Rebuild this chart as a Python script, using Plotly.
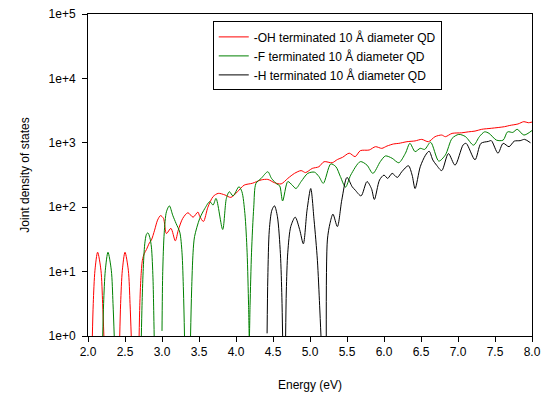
import plotly.graph_objects as go

# ---- data (energy in eV, joint density of states) ----
oh_energy = [2.058, 2.071, 2.094, 2.13, 2.175, 2.198, 2.216, 2.30,
             2.428, 2.441, 2.464, 2.50, 2.545, 2.568, 2.586, 2.64,
             2.69, 2.70, 2.715, 2.735, 2.76, 2.79, 2.83, 2.857, 2.90, 2.94, 2.98, 3.02,
             3.06, 3.12, 3.18, 3.22, 3.28, 3.35, 3.42, 3.485, 3.51, 3.56, 3.62, 3.69,
             3.76, 3.85, 3.93, 4.02, 4.11, 4.22, 4.34, 4.43, 4.52, 4.61, 4.70, 4.79,
             4.88, 4.94, 5.03, 5.12, 5.19, 5.30, 5.37, 5.44, 5.53, 5.61, 5.68, 5.80,
             5.885, 5.97, 6.04, 6.13, 6.20, 6.31, 6.42, 6.51, 6.60, 6.69, 6.78, 6.83,
             6.92, 7.05, 7.14, 7.23, 7.32, 7.45, 7.63, 7.70, 7.81, 7.89, 7.95, 8.0]
oh_jdos = [0.9, 3.2, 10.5, 20, 10.5, 3.2, 0.9, None,
           0.9, 3.2, 10.5, 20, 10.5, 3.2, 0.9, None,
           0.9, 3, 8, 15, 19, 22, 28, 31, 44, 63, 74, 67,
           39, 47, 30, 44, 67, 82, 70, 84, 72, 60, 100, 146,
           164, 155, 142, 174, 220, 235, 265, 270, 240, 230, 280, 335,
           370, 345, 400, 425, 509, 490, 550, 595, 690, 610, 755, 773,
           870, 820, 890, 960, 980, 1040, 1070, 1130, 1040, 1245, 1320, 1245,
           1400, 1430, 1480, 1520, 1620, 1680, 1780, 1860, 1960, 2130, 2050, 2100]

f_energy = [2.198, 2.211, 2.234, 2.27, 2.315, 2.338, 2.356, 2.40,
            2.72, 2.73, 2.745, 2.767, 2.79, 2.81, 2.835, 2.857, 2.878, 2.888, 2.895, 2.95,
            3.00, 3.01, 3.03, 3.06, 3.10, 3.145, 3.19, 3.24, 3.27, 3.29, 3.305, 3.35,
            3.385, 3.40, 3.42, 3.44, 3.51, 3.58, 3.645, 3.69, 3.73, 3.82, 3.87, 3.91,
            3.96, 4.04, 4.08, 4.12, 4.15, 4.17, 4.18, 4.19, 4.21, 4.24, 4.27, 4.34,
            4.43, 4.48, 4.55, 4.59, 4.63, 4.70, 4.76, 4.81, 4.88, 4.97, 5.06, 5.12,
            5.18, 5.28, 5.35, 5.41, 5.48, 5.55, 5.68, 5.77, 5.85, 5.95, 6.02, 6.11,
            6.20, 6.29, 6.35, 6.42, 6.49, 6.55, 6.63, 6.74, 6.83, 6.92, 7.01, 7.10,
            7.21, 7.29, 7.36, 7.42, 7.52, 7.61, 7.67, 7.74, 7.80, 7.89, 8.0]
f_jdos = [0.9, 3.2, 10.5, 20, 10.5, 3.2, 0.9, None,
          0.9, 3, 10, 27, 38, 40, 34, 24, 8, 2.5, 0.9, None,
          1.2, 10, 40, 85, 105, 75, 56, 41, 20, 5, 0.9, None,
          0.9, 5, 20, 35, 67, 96, 122, 108, 137, 45, 137, 174,
          150, 208, 174, 80, 20, 3, 0.9, 3, 20, 100, 234, 280,
          355, 280, 230, 215, 125, 250, 220, 195, 250, 335, 350, 300,
          235, 470, 425, 300, 205, 315, 510, 450, 335, 510, 625, 575,
          490, 690, 980, 730, 820, 790, 1020, 520, 650, 1170, 1350, 1250,
          920, 1250, 1480, 1400, 1100, 1100, 1480, 1450, 1620, 1320, 1550]

h_energy = [4.42, 4.43, 4.45, 4.485, 4.52, 4.56, 4.60, 4.62, 4.63, 4.65,
            4.67, 4.68, 4.70, 4.74, 4.80, 4.86, 4.91, 4.96, 5.01, 5.055, 5.10, 5.13, 5.15, 5.18,
            5.22, 5.235, 5.27, 5.31, 5.37, 5.43, 5.50, 5.57, 5.61, 5.69, 5.77, 5.83,
            5.87, 5.94, 6.00, 6.05, 6.11, 6.18, 6.24, 6.33, 6.38, 6.42, 6.49, 6.56,
            6.61, 6.66, 6.71, 6.78, 6.87, 6.96, 7.07, 7.11, 7.23, 7.31, 7.41, 7.45,
            7.54, 7.61, 7.69, 7.76, 7.84, 7.90, 7.98]
h_jdos = [1.1, 8, 44, 90, 105, 71, 19, 4, 1.0, None,
          0.9, 5, 20, 50, 70, 45, 27, 90, 195, 63, 15, 3, 0.9, None,
          0.9, 31, 56, 78, 50, 130, 290, 208, 185, 150, 250, 195,
          132, 265, 315, 280, 335, 290, 355, 440, 315, 195, 425, 640,
          740, 540, 450, 370, 680, 450, 930, 980, 545, 980, 1050, 1080,
          690, 980, 870, 1060, 1080, 1130, 1000]

series_names = ["-OH terminated 10 Å diameter QD",
                "-F terminated 10 Å diameter QD",
                "-H terminated 10 Å diameter QD"]
series_colors = ["#ff0000", "#008000", "#000000"]

y_tickvals = [1, 10, 100, 1000, 10000, 100000]
y_ticktext = ["1e+0", "1e+1", "1e+2", "1e+3", "1e+4", "1e+5"]
x_tickvals = [2.0, 2.5, 3.0, 3.5, 4.0, 4.5, 5.0, 5.5, 6.0, 6.5, 7.0, 7.5, 8.0]
x_ticktext = ["2.0", "2.5", "3.0", "3.5", "4.0", "4.5", "5.0", "5.5", "6.0", "6.5", "7.0", "7.5", "8.0"]

font_family = "Liberation Sans, Arial, sans-serif"

fig = go.Figure()
for xs, ys, name, color in zip([oh_energy, f_energy, h_energy],
                               [oh_jdos, f_jdos, h_jdos],
                               series_names, series_colors):
    fig.add_trace(go.Scatter(x=xs, y=ys, mode="lines", name=name,
                             line=dict(color=color, width=1, shape="spline", smoothing=0.8),
                             connectgaps=False))

fig.update_layout(
    width=544, height=396,
    margin=dict(l=88, r=12, t=14, b=60),
    paper_bgcolor="white", plot_bgcolor="white",
    font=dict(family=font_family, size=12, color="#000000"),
    showlegend=True,
    legend=dict(x=0.281, y=0.977, xanchor="left", yanchor="top",
                bgcolor="white", bordercolor="#000000", borderwidth=1,
                font=dict(family=font_family, size=12, color="#000000"),
                tracegroupgap=0),
    xaxis=dict(range=[2, 8], tickvals=x_tickvals, ticktext=x_ticktext,
               automargin=False,
               showgrid=False, zeroline=False, showline=True, mirror=True,
               linecolor="#000000", linewidth=1, ticks="outside", ticklen=5,
               tickcolor="#000000", tickfont=dict(size=12),
               title=dict(text="Energy (eV)", font=dict(size=12), standoff=22)),
    yaxis=dict(type="log", range=[0, 5], tickvals=y_tickvals, ticktext=y_ticktext,
               automargin=False,
               showgrid=False, zeroline=False, showline=True, mirror=True,
               linecolor="#000000", linewidth=1, ticks="outside", ticklen=5,
               ticklabelstandoff=4,
               tickcolor="#000000", tickfont=dict(size=12),
               title=dict(text="Joint density of states", font=dict(size=12), standoff=16)),
)

fig.write_html("out.html")
